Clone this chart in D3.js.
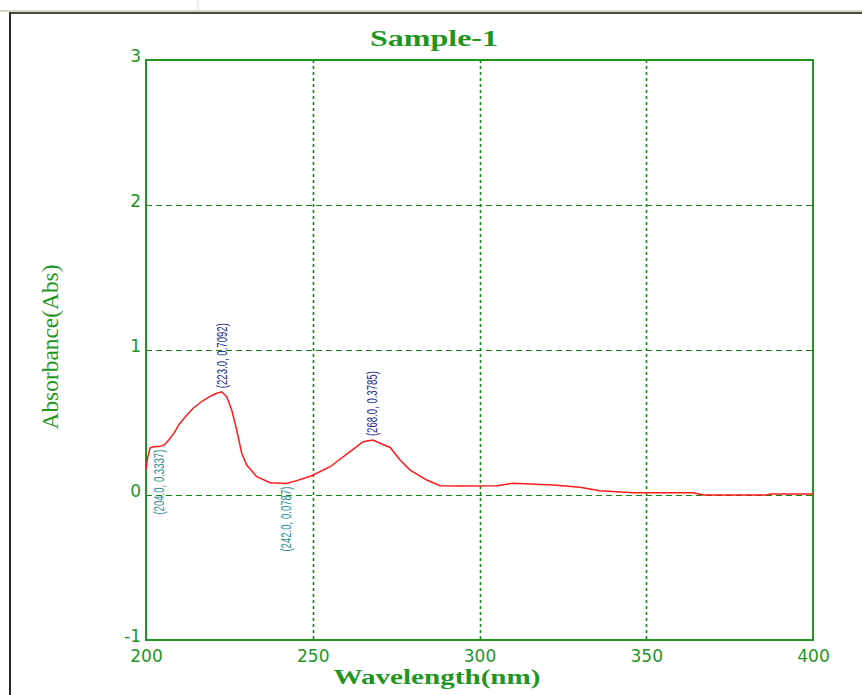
<!DOCTYPE html>
<html>
<head>
<meta charset="utf-8">
<script src="https://cdn.jsdelivr.net/npm/d3@7"></script>
<style>
  body { margin: 0; background: #fff; }
</style>
</head>
<body>
<div id="div1"></div>
<script>
////////
// Spectrum data
let wavelengths = [200, 200.5, 201.2, 202.2, 204, 205.5, 207, 208.5, 210, 212, 214.2, 217, 219.2,
  221, 222.7, 224.2, 225.7, 227.2, 228.7, 230.2, 233.2, 237.2, 242, 245.2, 249.7, 255.2, 261.2,
  265.1, 268, 273.2, 276.2, 279.2, 284.2, 288.2, 294.2, 305.2, 310.1, 315.1, 322.1, 330.1,
  336.1, 346.1, 364.1, 367.1, 386.1, 387.1, 400];
let absorbance = [0.172, 0.26, 0.324, 0.333, 0.3337, 0.345, 0.385, 0.43, 0.49, 0.545, 0.60, 0.65,
  0.68, 0.70, 0.712, 0.678, 0.586, 0.448, 0.288, 0.207, 0.126, 0.085, 0.0787, 0.099, 0.133,
  0.195, 0.299, 0.368, 0.3785, 0.328, 0.241, 0.172, 0.103, 0.064, 0.062, 0.064, 0.081, 0.076,
  0.069, 0.053, 0.030, 0.016, 0.016, 0.0, 0.0, 0.007, 0.007];

// peak / valley markers
let peakWl = [223.0, 268.0];
let peakAbs = [0.7092, 0.3785];
let valleyWl = [204.0, 242.0];
let valleyAbs = [0.3337, 0.0787];

let xTicks = [200, 250, 300, 350, 400];
let yTicks = [-1, 0, 1, 2, 3];

let data = wavelengths.map((w, i) => ({ wl: w, a: absorbance[i] }));


////////
// Canvas
let svg_width = 862;
let svg_height = 695;

let svg = d3.select("#div1")
  .append("svg")
  .attr("width", svg_width)
  .attr("height", svg_height)
  .style("display", "block")

let green = "#1f961f";
let gridGreen = "#118811";

// window frame bits
svg.append("line").attr("x1", 0).attr("x2", svg_width).attr("y1", 11).attr("y2", 11)
  .attr("stroke", "#d8d4c4").attr("stroke-width", 2)
svg.append("line").attr("x1", 9).attr("x2", svg_width).attr("y1", 13).attr("y2", 13)
  .attr("stroke", "#4a4a4a").attr("stroke-width", 2)
svg.append("line").attr("x1", 10).attr("x2", 10).attr("y1", 12).attr("y2", svg_height)
  .attr("stroke", "#2a2a2a").attr("stroke-width", 2)
svg.append("line").attr("x1", 198).attr("x2", 198).attr("y1", 0).attr("y2", 10)
  .attr("stroke", "#d8d8d8").attr("stroke-width", 1)


////////
// Scales
let plotLeft = 146, plotRight = 813, plotTop = 60, plotBottom = 640;

let xScale = d3.scaleLinear()
  .domain([200, 400])
  .range([plotLeft, plotRight])

let yScale = d3.scaleLinear()
  .domain([-1, 3])
  .range([plotBottom, plotTop])


////////
// Grid lines
svg.selectAll(".vgrid")
  .data(xTicks.slice(1, -1))
  .enter()
  .append("line")
  .attr("x1", d => Math.round(xScale(d)) + 0.5)
  .attr("x2", d => Math.round(xScale(d)) + 0.5)
  .attr("y1", plotTop)
  .attr("y2", plotBottom)
  .attr("stroke", gridGreen)
  .attr("stroke-width", 1.6)
  .attr("stroke-dasharray", "3,3")

svg.selectAll(".hgrid")
  .data(yTicks.slice(1, -1))
  .enter()
  .append("line")
  .attr("x1", plotLeft)
  .attr("x2", plotRight)
  .attr("y1", d => Math.round(yScale(d)) + 0.5)
  .attr("y2", d => Math.round(yScale(d)) + 0.5)
  .attr("stroke", gridGreen)
  .attr("stroke-width", 1.2)
  .attr("stroke-dasharray", "6,4")

// plot frame
svg.append("rect")
  .attr("x", plotLeft)
  .attr("y", plotTop)
  .attr("width", plotRight - plotLeft)
  .attr("height", plotBottom - plotTop)
  .attr("fill", "none")
  .attr("stroke", green)
  .attr("stroke-width", 2)


////////
// Axes (tick labels only, no tick marks)
let xAxis = d3.axisBottom(xScale).tickValues(xTicks).tickSize(0).tickPadding(0)
let gx = svg.append("g")
  .attr("transform", `translate(0,${plotBottom})`)
  .call(xAxis)
gx.select(".domain").remove()
gx.selectAll("text")
  .attr("y", 22)
  .attr("dy", 0)
  .attr("fill", green)
  .style("font-family", "DejaVu Sans, sans-serif")
  .style("font-size", "17px")

let yAxis = d3.axisLeft(yScale).tickValues(yTicks).tickSize(0).tickPadding(0)
  .tickFormat(d => String(d))
let gy = svg.append("g")
  .attr("transform", `translate(${plotLeft - 5},0)`)
  .call(yAxis)
gy.select(".domain").remove()
gy.selectAll("text")
  .attr("dy", 0)
  .attr("y", 1)
  .attr("fill", green)
  .style("font-family", "DejaVu Sans, sans-serif")
  .style("font-size", "17px")


////////
// Titles
svg.append("text")
  .attr("x", 434)
  .attr("y", 46)
  .attr("text-anchor", "middle")
  .attr("fill", green)
  .attr("textLength", 128)
  .attr("lengthAdjust", "spacingAndGlyphs")
  .style("font-family", "Liberation Serif, serif")
  .style("font-weight", "bold")
  .style("font-size", "23px")
  .text("Sample-1")

svg.append("text")
  .attr("x", 437)
  .attr("y", 684)
  .attr("text-anchor", "middle")
  .attr("fill", green)
  .attr("textLength", 207)
  .attr("lengthAdjust", "spacingAndGlyphs")
  .style("font-family", "Liberation Serif, serif")
  .style("font-weight", "bold")
  .style("font-size", "22px")
  .text("Wavelength(nm)")

svg.append("text")
  .attr("transform", "translate(58,347) rotate(-90)")
  .attr("text-anchor", "middle")
  .attr("fill", green)
  .attr("textLength", 165)
  .attr("lengthAdjust", "spacingAndGlyphs")
  .style("font-family", "Liberation Serif, serif")
  .style("font-size", "23px")
  .text("Absorbance(Abs)")


////////
// Spectrum line
let line = d3.line()
  .x(d => xScale(d.wl))
  .y(d => yScale(d.a))

svg.append("path")
  .datum(data)
  .attr("d", line)
  .attr("fill", "none")
  .attr("stroke", "#ff1a1a")
  .attr("stroke-width", 1.5)


////////
// Peak and valley labels, rotated
let fmt = (w, a) => `(${w.toFixed(1)}, ${a})`;

svg.selectAll(".peak")
  .data(peakWl.map((w, i) => ({ wl: w, a: peakAbs[i] })))
  .enter()
  .append("text")
  .attr("transform", d => `translate(${xScale(d.wl) - 1},${yScale(d.a) - 4}) rotate(-90)`)
  .attr("dominant-baseline", "central")
  .attr("text-anchor", "start")
  .attr("fill", "#2a2a8c")
  .attr("textLength", 65)
  .attr("lengthAdjust", "spacingAndGlyphs")
  .style("font-family", "Liberation Sans, sans-serif")
  .style("font-size", "15px")
  .text(d => fmt(d.wl, d.a))

svg.selectAll(".valley")
  .data(valleyWl.map((w, i) => ({ wl: w, a: valleyAbs[i] })))
  .enter()
  .append("text")
  .attr("transform", d => `translate(${xScale(d.wl) - 1},${yScale(d.a) + 3}) rotate(-90)`)
  .attr("dominant-baseline", "central")
  .attr("text-anchor", "end")
  .attr("fill", "#2a9090")
  .attr("textLength", 65)
  .attr("lengthAdjust", "spacingAndGlyphs")
  .style("font-family", "Liberation Sans, sans-serif")
  .style("font-size", "15px")
  .text(d => fmt(d.wl, d.a))
</script>
</body>
</html>
